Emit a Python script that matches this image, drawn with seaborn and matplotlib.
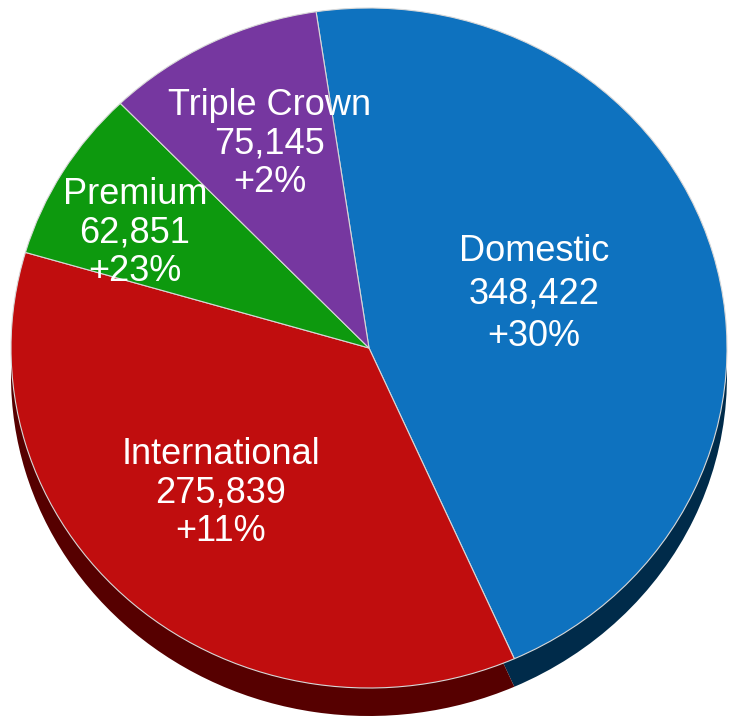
import matplotlib
matplotlib.use('Agg')
import matplotlib.pyplot as plt
import seaborn as sns

# ---- data ----
categories = ['Domestic', 'International', 'Premium', 'Triple Crown']
values = [348422, 275839, 62851, 75145]
growth = ['+30%', '+11%', '+23%', '+2%']

# ---- style ----
sns.set_theme(style='white')
plt.rcParams['font.family'] = ['Liberation Sans', 'DejaVu Sans']

top_colors = sns.color_palette(['#0E72BF', '#C00D0E', '#0D990E', '#7637A0'])
side_colors = sns.color_palette(['#002B4A', '#560000', '#064A06', '#3A1A50'])

W, H = 730, 717
cx, cy = 369, 348      # pie centre in image pixels
rx, ry = 358, 340      # ellipse radii in pixels
depth = 28             # 3D thickness in pixels

fig = plt.figure(figsize=(W / 100, H / 100), dpi=100)
ax = fig.add_axes([0, 0, 1, 1])

start = 98.5
# side (depth) layer
ax.pie(values, colors=side_colors, startangle=start, counterclock=False,
       center=(0, -depth / ry), radius=1,
       wedgeprops=dict(linewidth=0))
# top layer
ax.pie(values, colors=top_colors, startangle=start, counterclock=False,
       center=(0, 0), radius=1,
       wedgeprops=dict(linewidth=0.8, edgecolor='#d8d8d8'))

ax.set_aspect('auto')
ax.set_xlim(-cx / rx, (W - cx) / rx)
ax.set_ylim((cy - H) / ry, cy / ry)
ax.axis('off')

# label centres (image pixels) and line spacing
label_pos = [(534, 294), (221, 493), (135, 233), (270, 144)]
label_ls = [1.29, 1.14, 1.14, 1.14]
for cat, val, g, (lx, ly), ls in zip(categories, values, growth, label_pos, label_ls):
    ax.text((lx - cx) / rx, (cy - ly) / ry, f"{cat}\n{val:,}\n{g}",
            ha='center', va='center', color='white', fontsize=26,
            linespacing=ls)

fig.savefig('out.png', dpi=100, facecolor='white')
